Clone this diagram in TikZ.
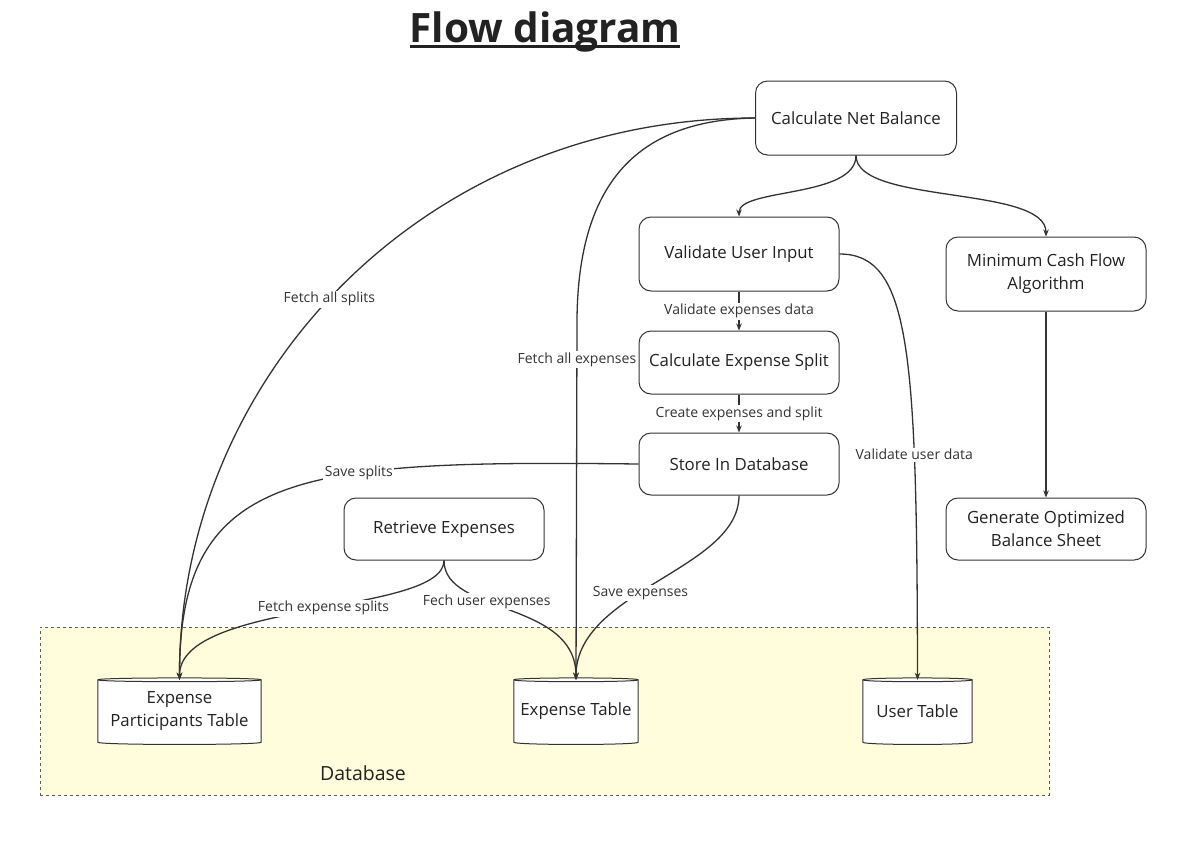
\documentclass[tikz,border=0pt]{standalone}
\usepackage{fontspec}
\setmainfont{Open Sans}
\usetikzlibrary{arrows.meta,calc}
\definecolor{lc}{HTML}{333333}
\definecolor{tc}{HTML}{222222}
\definecolor{dbfill}{HTML}{FFFDDB}
\tikzset{
  procbox/.style={draw=lc, line width=1pt, fill=white, rounded corners=12pt, align=center,
    text=tc, font=\fontsize{16.8}{23}\selectfont, inner sep=2pt},
  tabnode/.style={align=center, text=tc, font=\fontsize{16.8}{23}\selectfont, inner sep=2pt},
  conn/.style={draw=lc, line width=1.3pt, -{Stealth[length=7pt,width=5.5pt]}},
  elabel/.style={fill=white, text=lc, font=\fontsize{14}{16}\selectfont, inner sep=1.5pt},
}
\newcommand{\cyl}[1]{%
  \draw[draw=lc, line width=1pt, fill=white]
    (#1.north west) -- (#1.south west)
    .. controls +(0,3) and +(0,3) .. (#1.south east)
    -- (#1.north east)
    .. controls +(0,-2.5) and +(0,-2.5) .. (#1.north west) -- cycle;
  \draw[draw=lc, line width=1pt]
    (#1.north west) .. controls +(0,2.5) and +(0,2.5) .. (#1.north east);
}
\begin{document}
\begin{tikzpicture}[x=1pt,y=-1pt]
\useasboundingbox (0,0) rectangle (1183,844);
% title
\node[text=tc, font=\bfseries\fontsize{40.5}{46}\selectfont, inner sep=0pt, anchor=base] (title) at (545,42) {Flow diagram};
\draw[tc, line width=3pt] (410,46) -- (680,46);
% database region
\node[draw=lc!80, dashed, line width=1pt, fill=dbfill, minimum width=1009pt, minimum height=168pt, inner sep=0pt] (db) at (544.5,711) {};
\node[text=tc, font=\fontsize{19.5}{22}\selectfont] (dblabel) at (363,773) {Database};
% process boxes
\node[procbox, minimum width=201pt, minimum height=74pt] (cnb) at (856,118) {Calculate Net Balance};
\node[procbox, minimum width=200pt, minimum height=74pt] (vui) at (739,254) {Validate User Input};
\node[procbox, minimum width=200pt, minimum height=63pt] (ces) at (739,362.5) {Calculate Expense Split};
\node[procbox, minimum width=200pt, minimum height=62pt] (sid) at (739,464) {Store In Database};
\node[procbox, minimum width=200pt, minimum height=74pt] (mcf) at (1046,274) {Minimum Cash Flow\\Algorithm};
\node[procbox, minimum width=200pt, minimum height=62pt] (gob) at (1046,529) {Generate Optimized\\Balance Sheet};
\node[procbox, minimum width=200pt, minimum height=62pt] (rex) at (444,529) {Retrieve Expenses};
% tables
\node[minimum width=163pt, minimum height=62pt, inner sep=0pt] (ept) at (179.5,711) {};
\node[minimum width=124pt, minimum height=62pt, inner sep=0pt] (et) at (576,711) {};
\node[minimum width=109pt, minimum height=62pt, inner sep=0pt] (ut) at (917.5,711) {};
\cyl{ept}\cyl{et}\cyl{ut}
\node[tabnode] (eptt) at (ept.center) {Expense\\Participants Table};
\node[tabnode] (ett) at (et.center) {Expense Table};
\node[tabnode] (utt) at (ut.center) {User Table};
% connectors
\draw[conn] (cnb.west) .. controls (420,118) and (179,380) .. node[elabel, pos=0.52] {Fetch all splits} (ept.north);
\draw[conn] (cnb.west) .. controls (640,120) and (578,180) .. (577,320) -- node[elabel, pos=0.11] {Fetch all expenses} (et.north);
\draw[conn] (cnb.south) .. controls (856,198) and (739,188) .. (vui.north);
\draw[conn] (cnb.south) .. controls (856,205) and (1046,185) .. (mcf.north);
\draw[conn] (vui.east) .. controls (910,254) and (917,350) .. node[elabel, pos=0.72] {Validate user data} (ut.north);
\draw[conn] (vui.south) -- node[elabel] {Validate expenses data} (ces.north);
\draw[conn] (ces.south) -- node[elabel] {Create expenses and split} (sid.north);
\draw[conn] (sid.west) .. controls (300,460) and (179,470) .. node[elabel, pos=0.35] {Save splits} (ept.north);
\draw[conn] (sid.south) .. controls (739,570) and (576,590) .. node[elabel, pos=0.57] {Save expenses} (et.north);
\draw[conn] (rex.south) .. controls (444,615) and (179,600) .. node[elabel, pos=0.47] {Fetch expense splits} (ept.north);
\draw[conn] (rex.south) .. controls (444,615) and (576,600) .. node[elabel, pos=0.38] {Fech user expenses} (et.north);
\draw[conn] (mcf.south) -- (gob.north);
\end{tikzpicture}
\end{document}
